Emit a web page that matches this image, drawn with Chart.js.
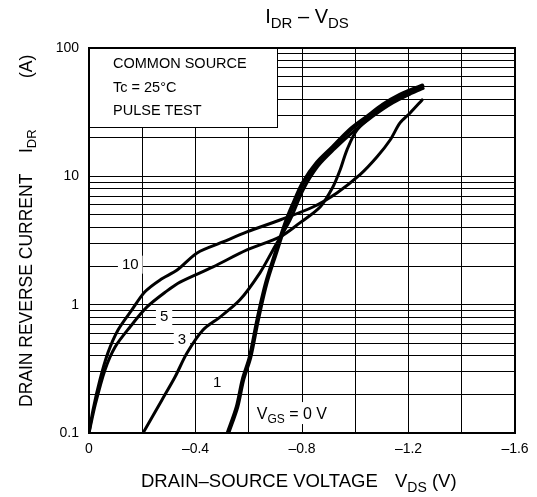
<!DOCTYPE html>
<html>
<head>
<meta charset="utf-8">
<script src="https://cdn.jsdelivr.net/npm/chart.js@4.4.1/dist/chart.umd.min.js"></script>
<style>
  html, body { margin: 0; padding: 0; background: #fff; }
  #wrap { width: 537px; height: 497px; }
</style>
</head>
<body>
<div id="wrap"><canvas id="idrChart" width="537" height="497"></canvas></div>
<script>
// I_DR - V_DS curves (V in volts, I in amps)
const vgs10V = [0, -0.015, -0.041, -0.071, -0.109, -0.161, -0.21, -0.267, -0.331, -0.406, -0.503, -0.593, -0.717, -0.841, -0.931, -1.018, -1.082, -1.131, -1.168, -1.206, -1.251];
const vgs10I = [0.1, 0.151, 0.259, 0.421, 0.635, 0.91, 1.26, 1.56, 1.86, 2.53, 3.08, 3.69, 4.57, 5.77, 7.43, 10.3, 14.2, 19.2, 26.1, 31.2, 39.4];

const vgs5V = [0, -0.023, -0.06, -0.098, -0.154, -0.218, -0.293, -0.342, -0.466, -0.593, -0.717, -0.792, -0.868, -0.916, -0.943, -0.969, -1.007, -1.082, -1.168, -1.243];
const vgs5I = [0.1, 0.165, 0.31, 0.468, 0.67, 0.96, 1.28, 1.5, 1.97, 2.67, 3.37, 4.34, 5.77, 8.26, 11.2, 16.1, 23.0, 31.8, 41.6, 49.8];

const vgs3V = [-0.203, -0.274, -0.323, -0.368, -0.428, -0.492, -0.567, -0.642, -0.691, -0.755, -0.804, -0.86, -0.923, -0.99, -1.067, -1.142, -1.213, -1.255];
const vgs3I = [0.1, 0.181, 0.273, 0.42, 0.635, 0.8, 1.09, 1.77, 2.67, 4.57, 7.83, 12.0, 16.4, 22.0, 29.5, 37.5, 44.5, 48.5];

const vgs0V = [-0.522, -0.556, -0.578, -0.605, -0.631, -0.65, -0.669, -0.699, -0.736, -0.766, -0.804, -0.856, -0.916, -0.98, -1.044, -1.104, -1.168, -1.251];
const vgs0I = [0.1, 0.16, 0.259, 0.39, 0.72, 1.09, 1.56, 2.44, 4.18, 5.98, 8.89, 12.7, 16.9, 23, 29, 36, 43, 50.7];

// axis ticks
const xTicks = [0, -0.2, -0.4, -0.6, -0.8, -1.0, -1.2, -1.4, -1.6];
const yTicks = [0.1, 0.2, 0.3, 0.4, 0.5, 0.6, 0.7, 0.8, 0.9, 1, 2, 3, 4, 5, 6, 7, 8, 9, 10, 20, 30, 40, 50, 60, 70, 80, 90, 100];
const yLabels = [0.1, 1, 10, 100];

// curve labels: text, V, I
const curveLabels = [
  ['10', -0.155, 2.05],
  ['5', -0.282, 0.80],
  ['3', -0.349, 0.53],
  ['1', -0.481, 0.245],
];

const FONT = '"Liberation Sans", Arial, sans-serif';

function pts(xs, ys) {
  return xs.map((x, i) => ({ x: x, y: ys[i] }));
}

// draw text with subscript pieces, parts = [[text, isSub], ...]
function richText(ctx, parts, x, y, size, align) {
  const subSize = Math.round(size * 0.75);
  let w = 0;
  parts.forEach(p => {
    ctx.font = (p[1] ? subSize : size) + 'px ' + FONT;
    w += ctx.measureText(p[0]).width;
  });
  let cx = align === 'center' ? x - w / 2 : x;
  ctx.textAlign = 'left';
  ctx.textBaseline = 'alphabetic';
  parts.forEach(p => {
    ctx.font = (p[1] ? subSize : size) + 'px ' + FONT;
    ctx.fillText(p[0], cx, p[1] ? y + size * 0.25 : y);
    cx += ctx.measureText(p[0]).width;
  });
}

const annotations = {
  id: 'annotations',
  beforeDatasetsDraw(chart) {
    const ctx = chart.ctx;
    const a = chart.chartArea;
    const xs = chart.scales.x, ys = chart.scales.y;
    ctx.save();

    // condition box in the upper left corner
    ctx.fillStyle = '#fff';
    ctx.fillRect(a.left, a.top, 188, 79);
    ctx.strokeStyle = '#000';
    ctx.lineWidth = 1;
    ctx.strokeRect(a.left + 0.5, a.top + 0.5, 188, 79);
    ctx.fillStyle = '#000';
    ctx.font = '14.5px ' + FONT;
    ctx.textAlign = 'left';
    ctx.textBaseline = 'middle';
    ctx.fillText('COMMON SOURCE', a.left + 24, a.top + 16);
    ctx.fillText('Tc = 25°C', a.left + 24, a.top + 40);
    ctx.fillText('PULSE TEST', a.left + 24, a.top + 63);

    // curve labels with white background
    ctx.textAlign = 'center';
    curveLabels.forEach(l => {
      const px = xs.getPixelForValue(l[1]);
      const py = ys.getPixelForValue(l[2]);
      ctx.font = '15px ' + FONT;
      const w = ctx.measureText(l[0]).width + 8;
      ctx.fillStyle = '#fff';
      ctx.fillRect(px - w / 2, py - 9, w, 18);
      ctx.fillStyle = '#000';
      ctx.fillText(l[0], px, py);
    });

    // V_GS = 0 V label
    const gx = xs.getPixelForValue(-0.762);
    const gy = ys.getPixelForValue(0.143);
    ctx.fillStyle = '#fff';
    ctx.fillRect(gx - 42, gy - 11, 86, 22);
    ctx.fillStyle = '#000';
    richText(ctx, [['V', false], ['GS', true], [' = 0 V', false]], gx, gy + 6, 16, 'center');

    // plot frame
    ctx.lineWidth = 2;
    ctx.strokeRect(a.left, a.top, a.right - a.left, a.bottom - a.top);
    ctx.restore();
  },
  afterDraw(chart) {
    const ctx = chart.ctx;
    ctx.save();
    ctx.fillStyle = '#000';
    // main title
    richText(ctx, [['I', false], ['DR', true], [' – V', false], ['DS', true]], 307, 23, 20, 'center');
    // x axis title
    richText(ctx, [['DRAIN–SOURCE VOLTAGE', false]], 141, 487, 18.5, 'left');
    richText(ctx, [['V', false], ['DS', true], [' (V)', false]], 395, 487, 18.5, 'left');
    // y axis title, rotated
    ctx.translate(32, 0);
    ctx.rotate(-Math.PI / 2);
    richText(ctx, [['DRAIN REVERSE CURRENT', false]], -407, 0, 17.5, 'left');
    richText(ctx, [['I', false], ['DR', true]], -153, 0, 17.5, 'left');
    richText(ctx, [['(A)', false]], -78, 0, 17.5, 'left');
    ctx.restore();
  }
};

const ctx = document.getElementById('idrChart').getContext('2d');
const idrChart = new Chart(ctx, {
  type: 'line',
  data: {
    datasets: [
      { label: '10', data: pts(vgs10V, vgs10I), borderWidth: 3 },
      { label: '5', data: pts(vgs5V, vgs5I), borderWidth: 3 },
      { label: '3', data: pts(vgs3V, vgs3I), borderWidth: 3 },
      { label: '0', data: pts(vgs0V, vgs0I), borderWidth: 4.5 },
    ].map(d => Object.assign(d, {
      borderColor: '#000',
      pointRadius: 0,
      fill: false,
      tension: 0.3,
      borderCapStyle: 'round',
      borderJoinStyle: 'round',
    }))
  },
  options: {
    responsive: false,
    animation: false,
    devicePixelRatio: 1,
    layout: { padding: { left: 0, top: 48, right: 22, bottom: 0 } },
    plugins: {
      legend: { display: false },
      tooltip: { enabled: false },
      title: { display: false },
    },
    scales: {
      x: {
        type: 'linear',
        min: -1.6,
        max: 0,
        reverse: true,
        afterFit: s => { s.height = 64; },
        afterBuildTicks: s => { s.ticks = xTicks.map(v => ({ value: v })); },
        grid: { color: '#000', lineWidth: 1, drawTicks: false },
        border: { display: false },
        ticks: {
          autoSkip: false,
          maxRotation: 0,
          padding: 8,
          color: '#000',
          font: { family: FONT, size: 14 },
          callback: v => {
            if (Math.round(v * 10) % 4 !== 0) return '';
            return v === 0 ? '0' : '–' + Math.abs(v).toFixed(1);
          }
        }
      },
      y: {
        type: 'logarithmic',
        min: 0.1,
        max: 100,
        afterFit: s => { s.width = 89; },
        afterBuildTicks: s => { s.ticks = yTicks.map(v => ({ value: v })); },
        grid: { color: '#000', lineWidth: 1, drawTicks: false },
        border: { display: false },
        ticks: {
          autoSkip: false,
          padding: 10,
          color: '#000',
          font: { family: FONT, size: 14 },
          callback: v => yLabels.includes(v) ? String(v) : ''
        }
      }
    }
  },
  plugins: [annotations]
});
</script>
</body>
</html>
